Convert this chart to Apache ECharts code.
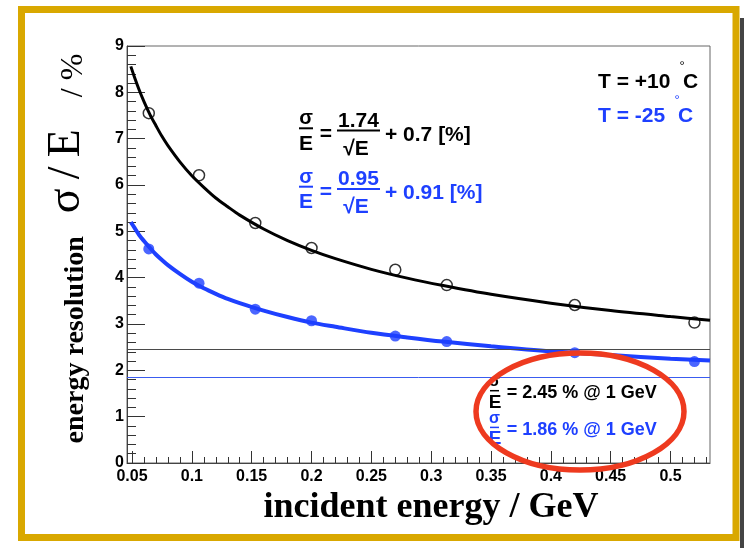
<!DOCTYPE html>
<html>
<head>
<meta charset="utf-8">
<script src="https://cdn.jsdelivr.net/npm/echarts@6/dist/echarts.min.js"></script>
<style>
html,body{margin:0;padding:0;background:#fff;}
#chart{width:744px;height:548px;}
</style>
</head>
<body>
<div id="chart"></div>
<script>
// ---- data ----
const energy   = [0.064, 0.106, 0.153, 0.200, 0.270, 0.313, 0.420, 0.520];
const resWarm  = [7.55, 6.21, 5.18, 4.64, 4.17, 3.84, 3.41, 3.03];   // T = +10 °C
const resCold  = [4.62, 3.88, 3.32, 3.07, 2.74, 2.62, 2.38, 2.19];   // T = -25 °C
const fitEnergy = [0.049, 0.052, 0.056, 0.06, 0.065, 0.07, 0.075, 0.08, 0.09, 0.10, 0.11, 0.12, 0.13, 0.14, 0.16, 0.18, 0.20, 0.22, 0.25, 0.28, 0.31, 0.35, 0.40, 0.45, 0.50, 0.533];
const fitWarm   = [8.56, 8.33, 8.05, 7.80, 7.52, 7.28, 7.05, 6.85, 6.50, 6.20, 5.95, 5.72, 5.53, 5.35, 5.05, 4.80, 4.59, 4.41, 4.18, 3.99, 3.83, 3.64, 3.45, 3.29, 3.16, 3.08];
const fitCold   = [5.20, 5.08, 4.92, 4.79, 4.64, 4.50, 4.38, 4.27, 4.08, 3.91, 3.77, 3.65, 3.54, 3.45, 3.29, 3.15, 3.03, 2.94, 2.81, 2.71, 2.62, 2.52, 2.41, 2.33, 2.25, 2.21];
const refLevels = [2.45, 1.86];
const xMajorTicks = [0.05, 0.10, 0.15, 0.20, 0.25, 0.30, 0.35, 0.40, 0.45, 0.50];
const xMinorTicks = [0.05,0.06,0.07,0.08,0.09,0.10,0.11,0.12,0.13,0.14,0.15,0.16,0.17,0.18,0.19,0.20,0.21,0.22,0.23,0.24,0.25,0.26,0.27,0.28,0.29,0.30,0.31,0.32,0.33,0.34,0.35,0.36,0.37,0.38,0.39,0.40,0.41,0.42,0.43,0.44,0.45,0.46,0.47,0.48,0.49,0.50,0.51,0.52,0.53];
const xRange = [0.0458, 0.533];
const yRange = [0, 9];

const BLACK = '#000000';
const BLUE = '#1e40ff';
const SANS = '"Liberation Sans", Arial, sans-serif';
const SERIF = '"Liberation Serif", "Times New Roman", serif';

function pairs(xs, ys){ return xs.map((x,i)=>[x, ys[i]]); }

function txt(x, y, text, color, size, align, weight){
  return {type:'text', x:x, y:y, z:50, silent:true,
    style:{text:text, fill:color, font:(weight||'bold')+' '+size+'px '+SANS,
      align:align||'left', textAlign:align||'left', verticalAlign:'middle', textVerticalAlign:'middle'}};
}
function hline(x1, x2, y, color, w){
  return {type:'line', z:50, silent:true, shape:{x1:x1,y1:y,x2:x2,y2:y}, style:{stroke:color, lineWidth:w||2}};
}

function formula(dy, color, num, rest){
  return [
    txt(306, 118.8+dy, 'σ', color, 20, 'center'),
    hline(299, 313, 128.3+dy, color, 2),
    txt(306, 144+dy, 'E', color, 21, 'center'),
    txt(326, 134+dy, '=', color, 21, 'center'),
    txt(358.5, 120.8+dy, num, color, 21, 'center'),
    hline(337, 380, 130.5+dy, color, 2),
    txt(356, 149+dy, '√E', color, 21, 'center'),
    txt(385, 135+dy, rest, color, 21, 'left')
  ];
}
function atGeV(dy, color, text){
  return [
    txt(494.5, 381.5+dy, 'σ', color, 16, 'center'),
    hline(490, 499, 390.7+dy, color, 1.5),
    txt(495, 402.5+dy, 'E', color, 19, 'center'),
    txt(506.7, 393.3+dy, text, color, 18, 'left')
  ];
}

const graphics = [
  {type:'rect', z:0, silent:true, shape:{x:21.5, y:9.5, width:714.5, height:528}, style:{fill:'none', stroke:'#d9a800', lineWidth:7}},
  {type:'rect', z:0, silent:true, shape:{x:740, y:18, width:4, height:530}, style:{fill:'#444'}},
  txt(598, 82.5, 'T = +10', BLACK, 21, 'left'),
  txt(682, 66, '°', BLACK, 13, 'center', 'normal'),
  txt(683, 82.5, 'C', BLACK, 21, 'left'),
  txt(598, 116.5, 'T = -25', BLUE, 21, 'left'),
  txt(677, 100, '°', BLUE, 13, 'center', 'normal'),
  txt(678, 116.5, 'C', BLUE, 21, 'left'),
  ...formula(0, BLACK, '1.74', '+ 0.7 [%]'),
  ...formula(58.4, BLUE, '0.95', '+ 0.91 [%]'),
  ...atGeV(0, BLACK, '= 2.45 % @ 1 GeV'),
  ...atGeV(36.7, BLUE, '= 1.86 % @ 1 GeV'),
  {type:'ellipse', z:100, silent:true, shape:{cx:580, cy:411.5, rx:104, ry:58.5}, style:{fill:'none', stroke:'#ee3a1f', lineWidth:5.5}}
];

const chart = echarts.init(document.getElementById('chart'), null, {renderer:'canvas'});
const option = {
  animation:false,
  backgroundColor:'#ffffff',
  grid:{left:127, right:34, top:46, bottom:85, show:true, borderColor:'#666', borderWidth:1, backgroundColor:'transparent'},
  xAxis:[
    {type:'value', min:xRange[0], max:xRange[1], position:'bottom', offset:0,
     name:'incident energy / GeV', nameLocation:'middle', nameGap:26,
     nameTextStyle:{fontFamily:SERIF, fontWeight:'bold', fontSize:36, color:'#000', padding:[0,0,0,25]},
     axisLine:{show:true, lineStyle:{color:'#444', width:1}},
     axisTick:{show:true, inside:true, length:12, customValues:xMajorTicks, lineStyle:{color:'#333', width:1}},
     axisLabel:{customValues:xMajorTicks, formatter:v=>String(Math.round(v*100)/100), fontFamily:SANS, fontWeight:'bold', fontSize:16, color:'#000', margin:6, hideOverlap:false},
     splitLine:{show:false}},
    {type:'value', min:xRange[0], max:xRange[1], position:'bottom', offset:0,
     axisLine:{show:false},
     axisTick:{show:true, inside:true, length:6, customValues:xMinorTicks, lineStyle:{color:'#333', width:1}},
     axisLabel:{show:false}, splitLine:{show:false}}
  ],
  yAxis:{type:'value', min:yRange[0], max:yRange[1], interval:1,
     name:'{b|energy resolution}{s|  σ\u2009/\u2009E}{p|    / %}', nameLocation:'middle', nameRotate:90, nameGap:37,
     nameTextStyle:{padding:[0,0,0,12], rich:{
       b:{fontFamily:SERIF, fontWeight:'bold', fontSize:28, color:'#000', verticalAlign:'bottom'},
       s:{fontFamily:SERIF, fontWeight:'normal', fontSize:46, color:'#000', verticalAlign:'bottom'},
       p:{fontFamily:SERIF, fontWeight:'normal', fontSize:32, color:'#000', verticalAlign:'bottom'}}},
     axisLine:{show:true, lineStyle:{color:'#444', width:1}},
     axisTick:{show:true, inside:true, length:18, lineStyle:{color:'#333', width:1}},
     minorTick:{show:true, splitNumber:5, length:9, lineStyle:{color:'#333', width:1}},
     axisLabel:{fontFamily:SANS, fontWeight:'bold', fontSize:16, color:'#000', margin:3},
     splitLine:{show:false}, minorSplitLine:{show:false}},
  series:[
    {type:'line', xAxisIndex:0, data:pairs(fitEnergy, fitWarm), showSymbol:false, smooth:0.3,
     lineStyle:{color:BLACK, width:3}, z:3,
     markLine:{silent:true, symbol:['none','none'], label:{show:false},
       data:[{yAxis:refLevels[0]}], lineStyle:{type:'solid', color:'#4a4a4a', width:1}}},
    {type:'line', xAxisIndex:0, data:pairs(fitEnergy, fitCold), showSymbol:false, smooth:0.3,
     lineStyle:{color:BLUE, width:4}, z:3,
     markLine:{silent:true, symbol:['none','none'], label:{show:false},
       data:[{yAxis:refLevels[1]}], lineStyle:{type:'solid', color:'#3a5cf0', width:1}}},
    {type:'scatter', xAxisIndex:0, data:pairs(energy, resWarm), symbol:'circle', symbolSize:11, z:5,
     itemStyle:{color:'rgba(255,255,255,0)', borderColor:BLACK, borderWidth:1.5}},
    {type:'scatter', xAxisIndex:0, data:pairs(energy, resCold), symbol:'circle', symbolSize:11, z:5,
     itemStyle:{color:BLUE}}
  ],
  graphic:{elements:graphics}
};
chart.setOption(option);
</script>
</body>
</html>
